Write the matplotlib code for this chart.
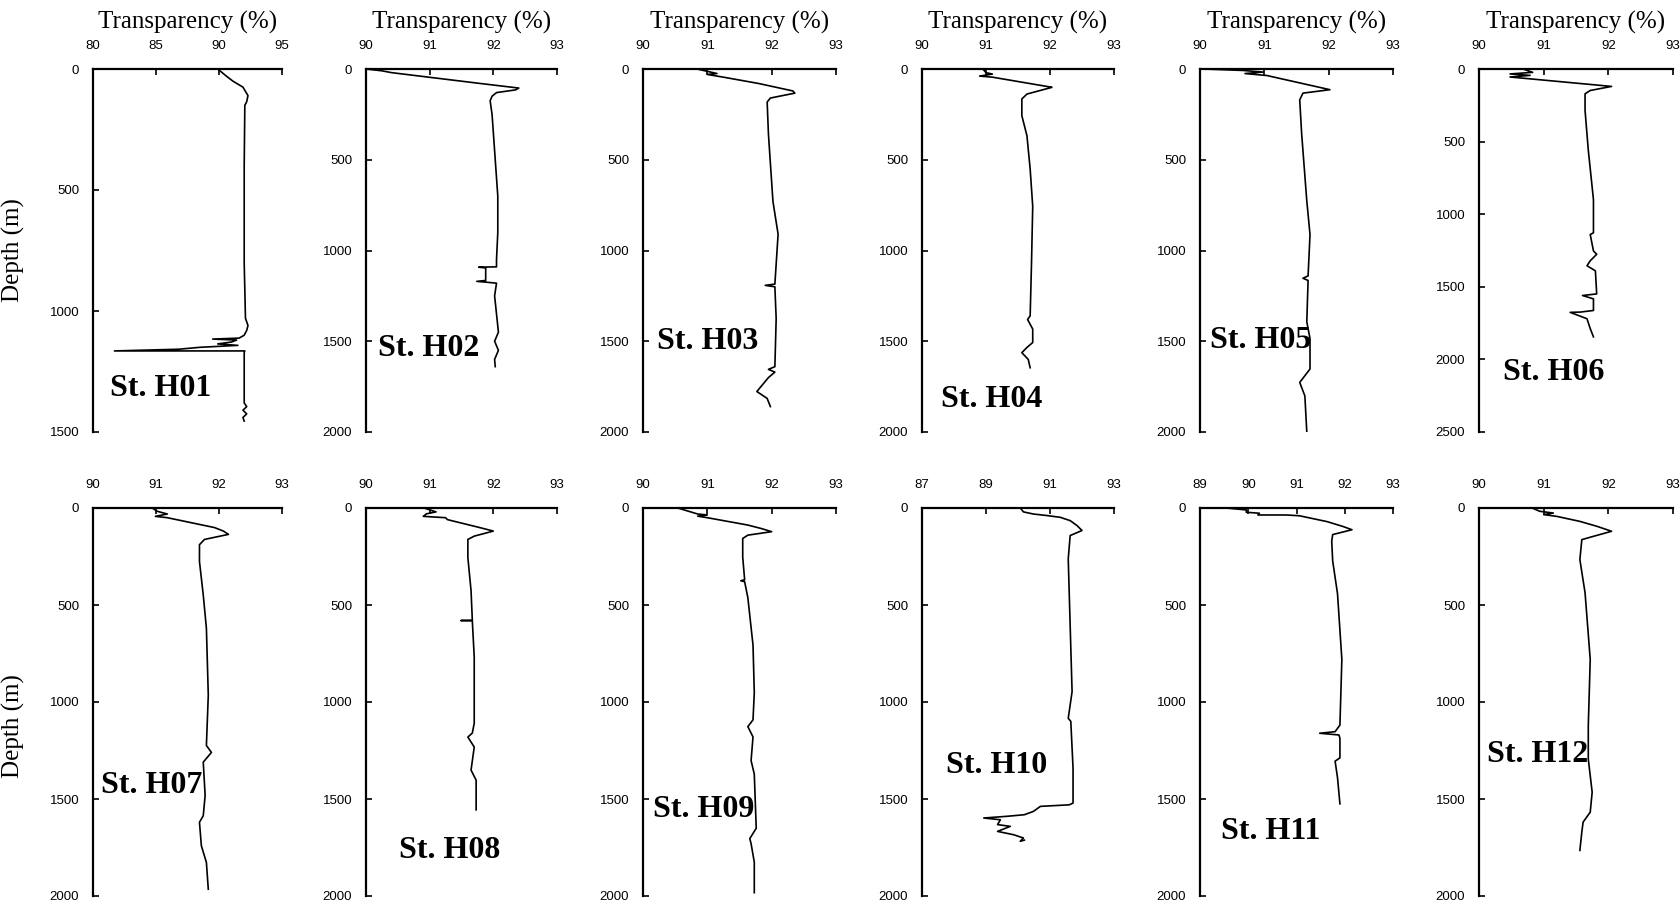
import matplotlib.pyplot as plt

# Transparency profiles (depth in m, transparency in %) for stations H01-H12
h01_depth = [0, 30, 50, 75, 110, 135, 150, 400, 800, 1030, 1060, 1080, 1100, 1112,
             1116, 1120, 1128, 1136, 1142, 1150, 1158, 1165, 1165, 1172, 1250, 1380,
             1395, 1410, 1425, 1440, 1455]
h01_trans = [89.9, 90.6, 91.1, 91.9, 92.3, 92.2, 92.05, 92.0, 92.0, 92.1, 92.3, 92.2,
             92.0, 91.6, 89.5, 91.4, 91.0, 89.9, 91.5, 88.5, 86.8, 81.7, 92.05, 92.0,
             92.0, 92.0, 92.2, 91.9, 92.2, 91.9, 92.0]

h02_depth = [0, 10, 20, 50, 80, 105, 115, 130, 150, 175, 250, 350, 500, 700, 900, 1050,
             1090, 1092, 1096, 1165, 1170, 1175, 1180, 1250, 1350, 1450, 1500, 1550,
             1600, 1640]
h02_trans = [90.0, 90.25, 90.4, 91.1, 91.8, 92.4, 92.35, 92.05, 91.98, 91.95, 91.98,
             92.0, 92.03, 92.07, 92.07, 92.05, 92.05, 91.77, 91.88, 91.88, 91.74, 91.9,
             92.05, 92.02, 92.05, 92.08, 92.02, 92.08, 92.02, 92.03]

h03_depth = [0, 25, 30, 45, 80, 121, 133, 160, 182, 360, 730, 910, 1185, 1192, 1200,
             1375, 1640, 1655, 1670, 1700, 1777, 1815, 1860]
h03_trans = [90.84, 91.15, 91.0, 91.25, 91.8, 92.33, 92.36, 91.98, 91.93, 91.95, 92.02,
             92.1, 92.05, 91.9, 92.05, 92.07, 92.05, 91.95, 92.05, 91.95, 91.77, 91.93,
             91.98]

h04_depth = [0, 20, 28, 39, 45, 99, 101, 138, 165, 257, 368, 551, 757, 1086, 1360,
             1380, 1433, 1507, 1534, 1563, 1600, 1646]
h04_trans = [90.95, 91.0, 91.1, 90.9, 91.1, 92.0, 92.03, 91.64, 91.56, 91.56, 91.64,
             91.69, 91.73, 91.71, 91.69, 91.65, 91.73, 91.73, 91.64, 91.56, 91.66, 91.69]

h05_depth = [0, 8, 17, 25, 36, 114, 133, 170, 356, 727, 912, 1140, 1153, 1165, 1393,
             1486, 1653, 1727, 1801, 2000]
h05_trans = [90.05, 90.67, 90.98, 90.7, 91.04, 92.02, 91.6, 91.55, 91.58, 91.66, 91.71,
             91.68, 91.6, 91.68, 91.66, 91.71, 91.71, 91.55, 91.63, 91.66]

h06_depth = [0, 23, 34, 44, 55, 120, 148, 171, 285, 558, 900, 1128, 1140, 1253, 1276,
             1321, 1355, 1390, 1549, 1560, 1583, 1663, 1674, 1676, 1720, 1788, 1845]
h06_trans = [90.68, 90.83, 90.48, 90.79, 90.48, 92.05, 91.72, 91.64, 91.64, 91.69,
             91.77, 91.77, 91.72, 91.77, 91.82, 91.72, 91.67, 91.8, 91.82, 91.6, 91.77,
             91.77, 91.57, 91.41, 91.67, 91.72, 91.77]

h07_depth = [0, 17, 31, 43, 50, 101, 119, 136, 162, 189, 276, 448, 620, 965, 1224,
             1260, 1310, 1482, 1586, 1620, 1741, 1827, 1965]
h07_trans = [90.94, 91.02, 91.18, 90.99, 91.18, 91.93, 92.07, 92.15, 91.77, 91.69,
             91.69, 91.75, 91.8, 91.83, 91.8, 91.88, 91.75, 91.78, 91.75, 91.69, 91.72,
             91.8, 91.83]

h08_depth = [0, 20, 30, 43, 50, 60, 102, 119, 145, 162, 256, 426, 578, 580, 582, 768,
             1109, 1160, 1181, 1232, 1351, 1403, 1556]
h08_trans = [90.91, 91.1, 90.95, 90.9, 91.25, 91.28, 91.8, 92.0, 91.7, 91.6, 91.6,
             91.65, 91.67, 91.49, 91.67, 91.7, 91.7, 91.67, 91.6, 91.7, 91.65, 91.73,
             91.73]

h09_depth = [0, 10, 31, 36, 42, 50, 88, 105, 122, 140, 157, 253, 370, 375, 380, 463,
             707, 952, 1092, 1127, 1180, 1302, 1372, 1651, 1704, 1730, 1826, 1983]
h09_trans = [90.54, 90.64, 90.85, 91.0, 90.85, 91.0, 91.63, 91.83, 92.0, 91.63, 91.55,
             91.55, 91.58, 91.52, 91.58, 91.63, 91.71, 91.73, 91.71, 91.63, 91.71, 91.68,
             91.73, 91.76, 91.66, 91.68, 91.73, 91.73]

h10_depth = [0, 20, 31, 39, 48, 65, 90, 116, 142, 262, 605, 947, 1084, 1100, 1341, 1521,
             1530, 1538, 1564, 1581, 1589, 1598, 1607, 1632, 1641, 1667, 1684, 1701,
             1718, 1712]
h10_trans = [90.07, 90.17, 90.48, 90.91, 91.32, 91.63, 91.84, 92.0, 91.63, 91.57, 91.63,
             91.69, 91.57, 91.65, 91.72, 91.72, 91.6, 90.7, 90.48, 90.2, 89.67, 88.93,
             89.45, 89.36, 89.76, 89.36, 89.86, 90.17, 90.07, 90.2]

h11_depth = [0, 10, 22, 27, 36, 36, 40, 70, 95, 112, 137, 171, 273, 442, 780, 1119,
             1153, 1161, 1170, 1187, 1288, 1305, 1390, 1525]
h11_trans = [89.54, 89.96, 89.96, 90.23, 90.2, 90.79, 91.06, 91.63, 91.96, 92.15, 91.75,
             91.73, 91.75, 91.85, 91.94, 91.9, 91.8, 91.48, 91.88, 91.9, 91.9, 91.8,
             91.85, 91.9]

h12_depth = [0, 17, 26, 34, 43, 69, 94, 112, 120, 146, 163, 266, 437, 780, 1123, 1294,
             1465, 1568, 1619, 1670, 1765]
h12_trans = [90.82, 90.94, 91.15, 91.0, 91.2, 91.56, 91.82, 91.98, 92.05, 91.77, 91.59,
             91.56, 91.64, 91.72, 91.69, 91.69, 91.75, 91.72, 91.61, 91.59, 91.56]

names = ['St. H01', 'St. H02', 'St. H03', 'St. H04', 'St. H05', 'St. H06',
         'St. H07', 'St. H08', 'St. H09', 'St. H10', 'St. H11', 'St. H12']
depths = [h01_depth, h02_depth, h03_depth, h04_depth, h05_depth, h06_depth,
          h07_depth, h08_depth, h09_depth, h10_depth, h11_depth, h12_depth]
trans = [h01_trans, h02_trans, h03_trans, h04_trans, h05_trans, h06_trans,
         h07_trans, h08_trans, h09_trans, h10_trans, h11_trans, h12_trans]

x_ticks = [[80, 85, 90, 95]] + [[90, 91, 92, 93]] * 8 + [[87, 89, 91, 93], [89, 90, 91, 92, 93],
                                                         [90, 91, 92, 93]]
y_max = [1500, 2000, 2000, 2000, 2000, 2500, 2000, 2000, 2000, 2000, 2000, 2000]

# station label position (axes fraction: left edge, centre from top)
label_pos = [(0.09, 0.879), (0.063, 0.77), (0.073, 0.75), (0.10, 0.91), (0.05, 0.747),
             (0.124, 0.836), (0.043, 0.716), (0.173, 0.882), (0.052, 0.778),
             (0.124, 0.663), (0.11, 0.835), (0.04, 0.635)]

W, H = 1681, 911
fig = plt.figure(figsize=(W / 100, H / 100), dpi=100)

col_left = [93, 366, 643, 922, 1200, 1479]
col_right = [282, 557, 836, 1114, 1393, 1673]
row_top = [69, 508]
row_bot = [432, 896]

serif = 'Liberation Serif'
sans = 'Liberation Sans'

for i in range(12):
    r, c = divmod(i, 6)
    l, rt = col_left[c], col_right[c]
    t, b = row_top[r], row_bot[r]
    ax = fig.add_axes([l / W, 1 - b / H, (rt - l) / W, (b - t) / H])

    ax.plot(trans[i], depths[i], color='black', lw=1.2)

    xt = x_ticks[i]
    ax.set_xlim(xt[0], xt[-1])
    ax.set_ylim(y_max[i], 0)
    ax.set_xticks(xt)
    ax.set_yticks(range(0, y_max[i] + 1, 500))
    ax.xaxis.tick_top()
    for s in ['right', 'bottom']:
        ax.spines[s].set_visible(False)
    for s in ['top', 'left']:
        ax.spines[s].set_linewidth(1.6)
    ax.tick_params(direction='in', length=4, width=1.2, pad=12, labelsize=9.5)
    ax.tick_params(axis='y', pad=10)
    for lab in ax.get_xticklabels() + ax.get_yticklabels():
        lab.set_fontfamily(sans)

    if r == 0:
        ax.text(0.5, 1.127, 'Transparency (%)', transform=ax.transAxes,
                ha='center', va='center', fontsize=18, family=serif)
    if c == 0:
        ax.set_ylabel('Depth (m)', fontsize=18, family=serif)
        ax.yaxis.set_label_coords(-0.36, 0.5 if r == 0 else 0.437)

    lx, ly = label_pos[i]
    ax.text(lx, 1 - ly, names[i], transform=ax.transAxes, ha='left', va='center',
            fontsize=23, fontweight='bold', family=serif)

fig.savefig('out.png', dpi=100)
